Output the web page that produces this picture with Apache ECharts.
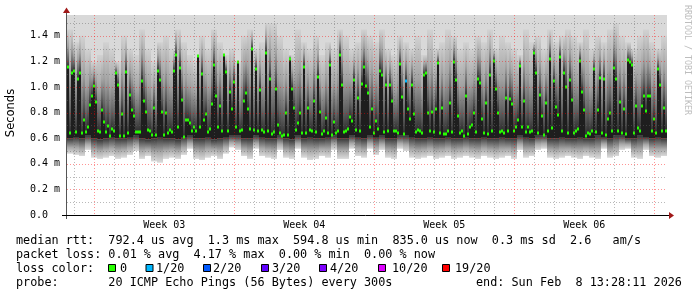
<!DOCTYPE html>
<html><head><meta charset="utf-8">
<script src="https://cdn.jsdelivr.net/npm/echarts@6/dist/echarts.min.js"></script>
<style>html,body{margin:0;padding:0;background:#fff}#c{width:697px;height:297px}</style>
</head><body><div id="c"></div>
<script>
// ---- data (times in hours from graph start, rtt in ms) ----
const stepHours = 2.4;           // one consolidated step
const yMaxMs = 1.5625;
const medianMs = [
1.154,0.643,1.107,1.128,0.648,1.06,1.107,0.638,0.742,0.651,
0.69,0.86,0.93,1.008,0.885,0.659,0.651,0.82,0.73,0.651,
0.695,0.617,0.669,0.654,1.107,1.016,0.617,0.79,0.617,1.117,
0.638,0.935,0.82,0.773,0.648,0.648,0.648,1.05,0.893,0.805,
0.664,0.66,0.625,0.836,0.625,1.128,1.055,0.805,0.625,0.80,
0.638,0.664,0.651,1.125,1.25,0.685,1.148,0.898,0.612,0.742,
0.742,0.72,0.659,0.685,0.66,1.242,0.685,1.10,0.742,0.79,
0.648,0.669,0.865,1.17,0.93,0.69,0.85,0.659,1.25,1.117,
0.659,0.963,0.825,1.04,0.685,1.195,0.66,0.664,0.893,0.956,
0.825,0.669,1.294,0.664,1.143,0.66,0.977,0.664,0.648,1.268,
0.66,1.06,0.633,0.651,0.987,0.703,0.643,0.617,0.625,0.794,
0.625,1.221,0.987,0.833,0.664,0.721,0.80,0.643,1.159,0.643,
0.833,0.664,0.659,0.888,0.651,1.081,0.807,0.633,0.659,0.758,
0.643,1.174,0.625,0.729,0.643,0.654,1.253,1.018,0.651,0.66,
0.669,0.763,0.737,1.055,0.664,0.911,0.659,1.023,1.159,1.008,
0.956,0.685,0.825,0.643,0.732,0.669,1.128,1.091,0.648,1.018,
0.66,1.018,0.893,0.659,0.66,0.643,1.18,0.92,0.633,1.044,
0.83,0.747,1.018,0.79,0.651,0.664,0.66,0.638,1.096,1.112,
0.794,0.659,0.805,0.648,0.825,1.19,0.638,0.836,0.633,0.633,
0.66,0.878,0.648,1.195,1.055,0.773,0.643,0.659,0.617,0.93,
0.633,0.685,0.706,0.80,0.651,1.065,1.034,0.753,0.643,0.872,
0.633,1.096,0.659,1.206,0.982,0.80,0.648,0.659,0.643,0.914,
0.654,0.909,0.867,0.66,0.69,0.742,1.164,0.69,0.888,0.651,
0.685,0.648,0.654,1.268,1.107,0.643,0.935,0.773,0.625,0.878,
0.66,1.221,0.677,1.044,0.846,0.779,1.237,0.659,1.112,1.003,
0.638,1.055,0.898,0.643,0.66,0.669,1.206,0.961,0.82,0.617,
0.64,0.633,0.659,1.138,0.648,0.82,1.07,0.638,1.065,0.628,
0.753,0.80,0.654,1.148,1.065,0.66,0.883,0.643,0.83,0.633,
1.211,1.195,1.174,0.643,0.852,0.68,0.66,0.852,0.93,0.81,
0.93,0.93,0.654,0.753,0.643,1.138,1.018,0.659,0.836,0.66
];
// smoke envelope, one value per 3 steps
const smokeLowMs = [
0.48,0.47,0.46,0.51,0.45,0.44,0.45,0.46,0.44,0.45,0.47,0.50,0.44,0.46,0.42,0.41,0.44,
0.45,0.44,0.47,0.52,0.44,0.43,0.45,0.46,0.44,0.48,0.53,0.51,0.46,0.44,0.52,0.46,0.45,
0.44,0.51,0.45,0.44,0.52,0.45,0.43,0.44,0.46,0.45,0.51,0.44,0.44,0.52,0.46,0.45,
0.52,0.47,0.51,0.45,0.44,0.52,0.50,0.45,0.44,0.45,0.46,0.44,0.45,0.46,0.44,0.45,0.46,
0.45,0.44,0.46,0.45,0.44,0.45,0.46,0.44,0.51,0.45,0.46,0.51,0.52,0.45,0.44,0.45,0.46,
0.45,0.44,0.46,0.45,0.44,0.52,0.45,0.46,0.51,0.52,0.45,0.44,0.51,0.46,0.45,0.46
];
const smokeQ1Ms = [
0.60,0.61,0.60,0.62,0.60,0.59,0.60,0.61,0.60,0.60,0.61,0.62,0.60,0.59,0.60,0.61,0.60,
0.60,0.59,0.61,0.62,0.60,0.60,0.61,0.59,0.60,0.61,0.62,0.62,0.60,0.60,0.62,0.61,0.60,
0.60,0.62,0.60,0.59,0.62,0.60,0.61,0.60,0.60,0.61,0.62,0.60,0.60,0.62,0.61,0.60,
0.62,0.61,0.62,0.60,0.60,0.62,0.62,0.61,0.60,0.60,0.61,0.60,0.60,0.61,0.60,0.60,0.61,
0.60,0.60,0.61,0.60,0.60,0.61,0.60,0.60,0.62,0.61,0.60,0.62,0.62,0.60,0.60,0.61,0.60,
0.60,0.61,0.60,0.60,0.62,0.61,0.60,0.62,0.62,0.60,0.60,0.62,0.61,0.60,0.61,0.60
];
const smokeHighMs = [
1.45,1.35,1.40,1.30,1.20,1.25,1.35,1.30,1.20,1.40,1.30,1.25,1.45,1.30,1.20,1.35,1.40,
1.30,1.45,1.35,1.25,1.20,1.40,1.30,1.45,1.35,1.25,1.30,1.20,1.40,1.45,1.30,1.35,1.50,
1.50,1.40,1.30,1.25,1.45,1.35,1.30,1.40,1.25,1.35,1.30,1.45,1.40,1.30,1.35,1.45,
1.40,1.35,1.45,1.30,1.25,1.40,1.35,1.30,1.40,1.25,1.45,1.30,1.35,1.45,1.40,1.30,1.35,
1.30,1.40,1.35,1.45,1.30,1.40,1.35,1.30,1.25,1.45,1.35,1.40,1.30,1.45,1.35,1.40,1.45,
1.40,1.35,1.45,1.30,1.40,1.35,1.45,1.50,1.40,1.35,1.30,1.40,1.45,1.35,1.30,1.40
];
const lossSteps = [169];
const lossCounts = [1];
const yTickValues = [0, 0.2, 0.4, 0.6, 0.8, 1.0, 1.2, 1.4];
const weekLabels = ['Week 03', 'Week 04', 'Week 05', 'Week 06'];
const weekCentersH = [116.76, 284.76, 452.76, 620.76];
const dayGridStartH = 8.76, weekGridStartH = 32.76, spanH = 720;
const lossLegend = ['0', '1/20', '2/20', '3/20', '4/20', '10/20', '19/20'];
const lossColors = ['#26ff00', '#00b8ff', '#0059ff', '#5e00ff', '#7e00ff', '#dd00ff', '#ff0000'];
const statLines = [
  'median rtt:  792.4 us avg  1.3 ms max  594.8 us min  835.0 us now  0.3 ms sd  2.6   am/s',
  'packet loss: 0.01 % avg  4.17 % max  0.00 % min  0.00 % now',
  'loss color:',
  'probe:       20 ICMP Echo Pings (56 Bytes) every 300s'
];
const endText = 'end: Sun Feb  8 13:28:11 2026';

// ---- build ----
const smokeRows = medianMs.map((m, i) => {
  const k = Math.min(Math.floor(i / 3), smokeLowMs.length - 1);
  const li = lossSteps.indexOf(i);
  return [i * stepHours, (i + 1) * stepHours, smokeLowMs[k], smokeQ1Ms[k], m, smokeHighMs[k], li >= 0 ? lossCounts[li] : 0];
});
const gridRows = [];
for (let h = dayGridStartH; h < spanH; h += 24) {
  const major = Math.abs(((h - weekGridStartH) % 168 + 168) % 168) < 0.01;
  gridRows.push([1, h, major ? 1 : 0]);
}
for (let v = 1; v <= 15; v++) gridRows.push([0, v / 10, v % 2 === 0 ? 1 : 0]);

const G = echarts.graphic;
const lowGrad = new G.LinearGradient(0, 0, 0, 1, [
  {offset: 0, color: '#363636'}, {offset: 0.3, color: '#707070'},
  {offset: 0.6, color: '#a8a8a8'}, {offset: 1, color: '#dadada'}]);
const upGrad = new G.LinearGradient(0, 0, 0, 1, [
  {offset: 0, color: '#d2d2d2'}, {offset: 0.45, color: '#a2a2a2'},
  {offset: 0.8, color: '#5e5e5e'}, {offset: 1, color: '#2e2e2e'}]);

function renderSmoke(params, api) {
  const xs = api.value(0), xe = api.value(1), lo = api.value(2), q1 = api.value(3),
        med = api.value(4), hi = api.value(5), loss = api.value(6);
  const x0 = Math.round(api.coord([xs, 0])[0]);
  const w = Math.round(api.coord([xe, 0])[0]) - x0;
  const Y = v => api.coord([xs, v])[1];
  const yTop = Y(yMaxMs), yLo = Y(lo), yQ = Y(Math.min(q1, med)), yMed = Y(med), yHi = Y(Math.max(hi, med));
  const ch = [
    {type: 'rect', shape: {x: x0, y: yTop, width: w, height: yLo - yTop}, style: {fill: '#d9d9d9'}},
    {type: 'rect', shape: {x: x0, y: yQ, width: w, height: yLo - yQ}, style: {fill: lowGrad}},
    {type: 'rect', shape: {x: x0, y: yHi, width: w, height: yMed - yHi}, style: {fill: upGrad}},
    {type: 'rect', shape: {x: x0, y: yMed, width: w, height: Math.max(0, yQ - yMed)}, style: {fill: '#1e1e1e'}},
    {type: 'rect', shape: {x: x0, y: Math.round(yMed) - 1.5, width: w, height: 3}, style: {fill: lossColors[loss]}}
  ];
  return {type: 'group', children: ch};
}
function renderGrid(params, api) {
  const cs = params.coordSys;
  const isV = api.value(0) === 1, v = api.value(1), major = api.value(2) === 1;
  const color = major ? 'rgba(255,0,0,0.42)' : 'rgba(100,100,100,0.45)';
  const style = {stroke: color, lineWidth: 1, lineDash: [1, 2]};
  if (isV) {
    const x = Math.round(api.coord([v, 0])[0]) + 0.5;
    return {type: 'line', shape: {x1: x, y1: cs.y, x2: x, y2: cs.y + cs.height}, style};
  }
  const y = Math.round(api.coord([0, v])[1]) + 0.5;
  return {type: 'line', shape: {x1: cs.x, y1: y, x2: cs.x + cs.width, y2: y}, style};
}

const mono = '"DejaVu Sans Mono", monospace';
const legendFont = '11.8px ' + mono;
const graphics = [];
statLines.forEach((t, i) => {
  graphics.push({type: 'text', x: 16, y: 241 + i * 14, silent: true,
    style: {text: t, font: legendFont, fill: '#000', verticalAlign: 'middle'}});
});
graphics.push({type: 'text', x: 476, y: 283, silent: true,
  style: {text: endText, font: legendFont, fill: '#000', verticalAlign: 'middle'}});
const boxX = [108.5, 146, 203.5, 261.5, 319.5, 378.5, 442.5];
const boxTextX = [120, 156, 213, 272, 330, 392, 455];
lossLegend.forEach((t, i) => {
  graphics.push({type: 'rect', silent: true, shape: {x: boxX[i], y: 264.5, width: 7, height: 7},
    style: {fill: lossColors[i], stroke: '#000', lineWidth: 1}});
  graphics.push({type: 'text', x: boxTextX[i], y: 269, silent: true,
    style: {text: t, font: legendFont, fill: '#000', verticalAlign: 'middle'}});
});
graphics.push({type: 'text', x: 11, y: 113, rotation: Math.PI / 2, silent: true,
  style: {text: 'Seconds', font: '11.5px "DejaVu Sans", sans-serif', fill: '#000', align: 'center', verticalAlign: 'middle'}});
graphics.push({type: 'text', x: 687, y: 60, rotation: -Math.PI / 2, silent: true,
  style: {text: 'RRDTOOL / TOBI OETIKER', font: '8.3px ' + mono, fill: '#bdbdbd', align: 'center', verticalAlign: 'middle'}});
// axes lines + arrows
graphics.push({type: 'line', silent: true, shape: {x1: 66.5, y1: 11, x2: 66.5, y2: 219}, style: {stroke: '#555', lineWidth: 1}, z: 20});
graphics.push({type: 'line', silent: true, shape: {x1: 62, y1: 215.5, x2: 669, y2: 215.5}, style: {stroke: '#000', lineWidth: 1}, z: 20});
graphics.push({type: 'polygon', silent: true, shape: {points: [[669, 212], [674, 215.5], [669, 219]]}, style: {fill: '#a01818'}, z: 20});
graphics.push({type: 'polygon', silent: true, shape: {points: [[63, 13], [66.5, 7.5], [70, 13]]}, style: {fill: '#a01818'}, z: 20});

const chart = echarts.init(document.getElementById('c'), null, {renderer: 'canvas'});
chart.setOption({
  animation: false,
  backgroundColor: '#fff',
  grid: {left: 67, top: 15, width: 600, height: 200},
  xAxis: {
    type: 'value', min: 0, max: spanH,
    axisLine: {show: false}, axisTick: {show: false}, splitLine: {show: false},
    axisLabel: {
      customValues: weekCentersH, margin: 5, color: '#000',
      fontFamily: '"DejaVu Sans Mono", monospace', fontSize: 10,
      formatter: v => { const i = weekCentersH.findIndex(c => Math.abs(c - v) < 0.5); return i >= 0 ? weekLabels[i] : ''; }
    }
  },
  yAxis: {
    type: 'value', min: 0, max: yMaxMs, interval: 0.2,
    axisLine: {show: false}, axisTick: {show: false}, splitLine: {show: false},
    axisLabel: {
      margin: 7, color: '#000', fontFamily: '"DejaVu Sans Mono", monospace', fontSize: 10,
      showMaxLabel: false,
      formatter: v => (yTickValues.some(t => Math.abs(t - v) < 1e-6) ? (v === 0 ? '0.0  ' : v.toFixed(1) + ' m') : '')
    }
  },
  series: [
    {type: 'custom', renderItem: renderSmoke, data: smokeRows, clip: true, silent: true, z: 2,
     encode: {x: [0, 1], y: [2, 4]}},
    {type: 'custom', renderItem: renderGrid, data: gridRows, silent: true, z: 5,
     encode: {x: 1, y: 1}}
  ],
  graphic: graphics
});
</script>
</body></html>
